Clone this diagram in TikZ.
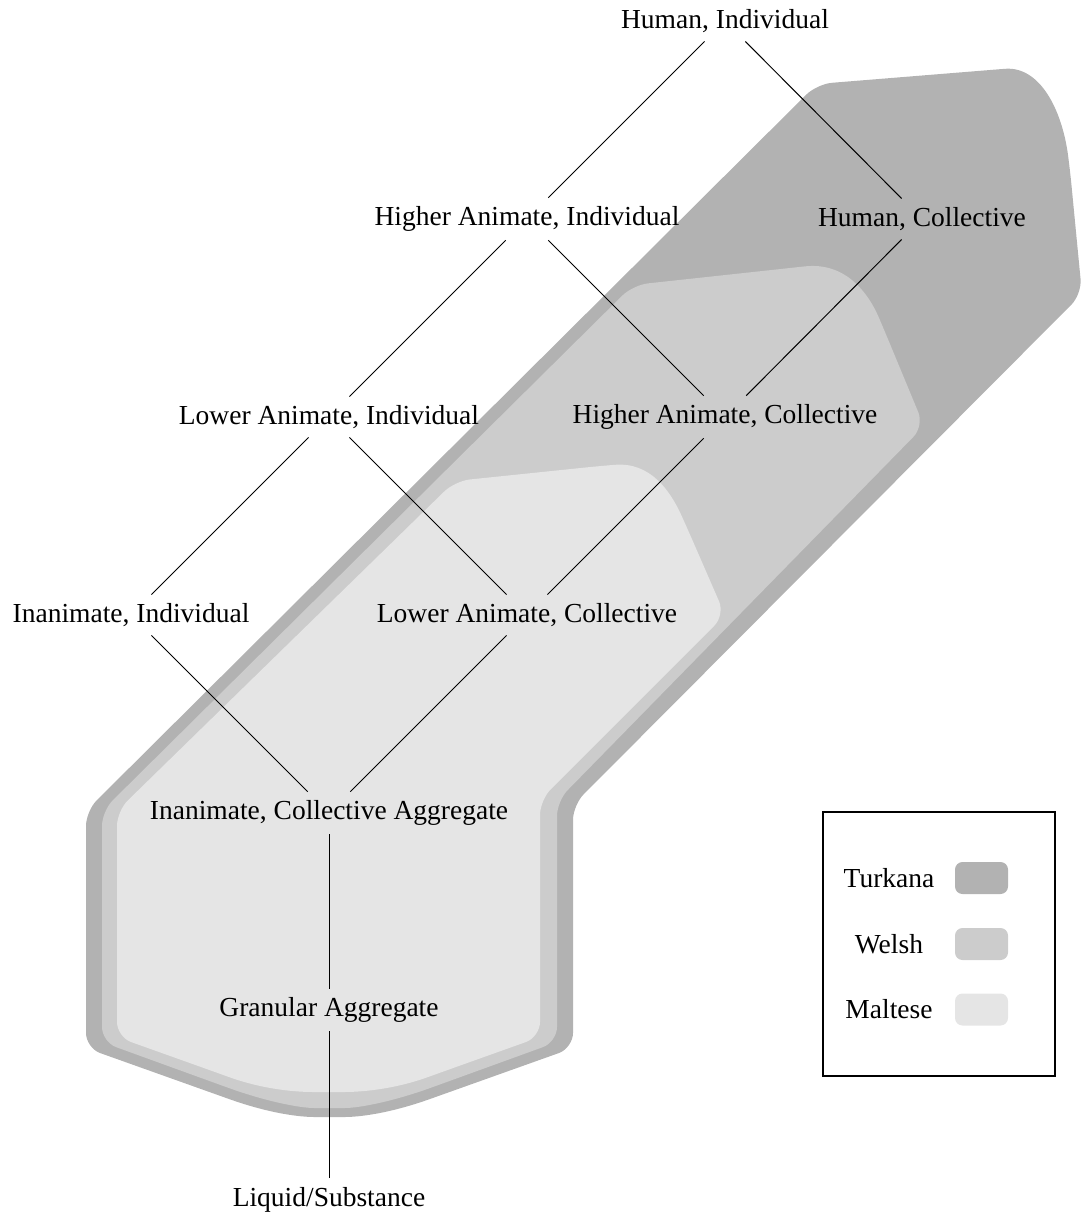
\documentclass[tikz,border=0pt]{standalone}
\usepackage{fontspec}
\setmainfont{Liberation Serif}
\usepackage{tikz}
\definecolor{turkana}{gray}{0.7}
\definecolor{welsh}{gray}{0.8}
\definecolor{maltese}{gray}{0.9}
\tikzstyle{cat}=[inner sep=.3333em]
\tikzstyle{swatch}=[rounded corners=3pt, minimum width=21.2pt, minimum height=12.8pt, inner sep=0pt]
\tikzstyle{legbox}=[line width=0.6pt]

\begin{document}
\begin{tikzpicture}[x=0.4pt, y=-0.4pt, font=\fontsize{11}{13}\selectfont]
      \useasboundingbox (0,0) rectangle (1081,1221);
      % language areas
      \fill[turkana, rounded corners=6pt]
        (86,900) -- (86,811) -- (817,84) -- (990,70)
        .. controls (1040,66) and (1062,110) .. (1070,170)
        -- (1082,294) -- (573,805) -- (573,1048) -- (444,1094)
        .. controls (389,1113.6) and (359,1117) .. (329.5,1117)
        .. controls (300,1117) and (270,1113.6) .. (215,1094)
        -- (86,1048) -- cycle;
      \fill[welsh, rounded corners=6pt]
        (102,900) -- (102,811) -- (633,285) -- (790,268)
        .. controls (845,262) and (868,292) .. (885,332)
        -- (924,426) -- (557,801) -- (557,1042) -- (444,1083)
        .. controls (394,1101) and (360,1108) .. (329.5,1108)
        .. controls (299,1108) and (265,1101) .. (215,1083)
        -- (102,1042) -- cycle;
      \fill[maltese, rounded corners=6pt]
        (117,900) -- (117,811) -- (455,481) -- (600,466)
        .. controls (650,462) and (670,490) .. (688,530)
        -- (725,615) -- (540,800) -- (540,1037) -- (442,1072)
        .. controls (392,1090) and (359,1092) .. (328.5,1092)
        .. controls (298,1092) and (265,1090) .. (215,1072)
        -- (117,1037) -- cycle;
      %
      \node at (725,21) [cat] (hi) {Human, Individual};
      \node at (527,219) [cat] (hai) {Higher Animate, Individual} edge (hi);
      \node at (922,219) [cat] (hc) {Human, Collective} edge (hi);
      \node at (329,417) [cat] (lai) {Lower Animate, Individual} edge (hai);
      \node at (725,417) [cat] (hac) {Higher Animate, Collective}
        edge (hai)
        edge (hc);
      \node at (131,615) [cat] (ii) {Inanimate, Individual} edge (lai);
      \node at (527,615) [cat] (lac) {Lower Animate, Collective}
        edge (lai)
        edge (hac);
      \node at (329,813) [cat] (ica) {Inanimate, Collective Aggregate}
        edge (ii)
        edge (lac);
      \node at (329,1010) [cat] (gran) {Granular Aggregate} edge (ica);
      \node at (329,1199.5) [cat] (liq) {Liquid/Substance} edge (gran);
      % legend
      \draw[legbox] (823,812) rectangle (1055,1076);
      \node at (889,878) (lgturkana) {Turkana};
      \node at (889,944) (lgwelsh) {Welsh};
      \node at (889,1009.5) (lgmaltese) {Maltese};
      \node at (981.5,878) [swatch, fill=turkana] (swturkana) {};
      \node at (981.5,944) [swatch, fill=welsh] (swwelsh) {};
      \node at (981.5,1009.5) [swatch, fill=maltese] (swmaltese) {};
      %
\end{tikzpicture}
\end{document}
